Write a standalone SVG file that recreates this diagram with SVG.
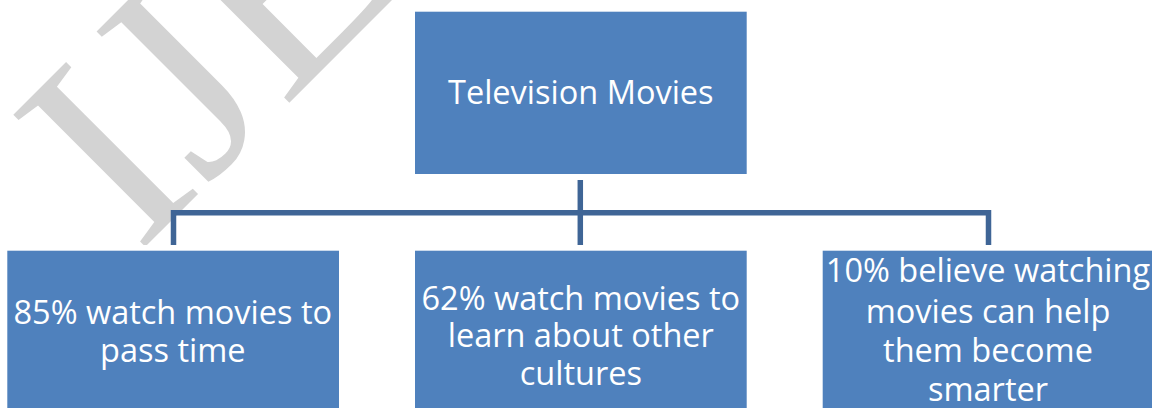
<svg xmlns="http://www.w3.org/2000/svg" width="1152" height="408" viewBox="0 0 1152 408">
  <style>
    .box { fill: #4F81BD; }
    .label { font-family: "Open Sans", "Noto Sans", "Liberation Sans", sans-serif; font-size: 32.5px; fill: #FFFFFF; text-anchor: middle; }
    .link { fill: none; stroke: #3F6596; stroke-width: 5.5; stroke-linejoin: miter; }
    .mark { font-family: "Liberation Serif", "Times New Roman", serif; font-size: 285px; fill: #D3D3D3; }
  </style>
  <defs>
    <clipPath id="markClip">
      <rect x="0" y="0" width="1152" height="245"/>
    </clipPath>
  </defs>

  <rect x="0" y="0" width="1152" height="408" fill="#FFFFFF"/>

  <!-- background watermark -->
  <g id="watermark" clip-path="url(#markClip)">
    <text class="mark" x="138" y="254" transform="rotate(-45 138 254)">IJE</text>
  </g>

  <!-- tree connectors -->
  <g id="connectors">
    <path class="link" d="M580.3,180 V245"/>
    <path class="link" d="M173.5,245 V212.8 H988.5 V245"/>
  </g>

  <g id="node-root">
    <rect class="box" x="415" y="11.7" width="331.7" height="162.3"/>
    <text class="label" x="580.8" y="104">Television Movies</text>
  </g>

  <g id="node-pass-time">
    <rect class="box" x="7.3" y="250.7" width="331.7" height="162.3"/>
    <text class="label" x="172.8" y="324">85% watch movies to</text>
    <text class="label" x="172.8" y="362">pass time</text>
  </g>

  <g id="node-cultures">
    <rect class="box" x="415" y="250.7" width="331.7" height="162.3"/>
    <text class="label" x="580.8" y="310">62% watch movies to</text>
    <text class="label" x="580.8" y="347">learn about other</text>
    <text class="label" x="580.8" y="385">cultures</text>
  </g>

  <g id="node-smarter">
    <rect class="box" x="822.7" y="250.7" width="331.7" height="162.3"/>
    <text class="label" x="988" y="282">10% believe watching</text>
    <text class="label" x="988" y="322.5">movies can help</text>
    <text class="label" x="988" y="361.5">them become</text>
    <text class="label" x="988" y="401">smarter</text>
  </g>
</svg>
